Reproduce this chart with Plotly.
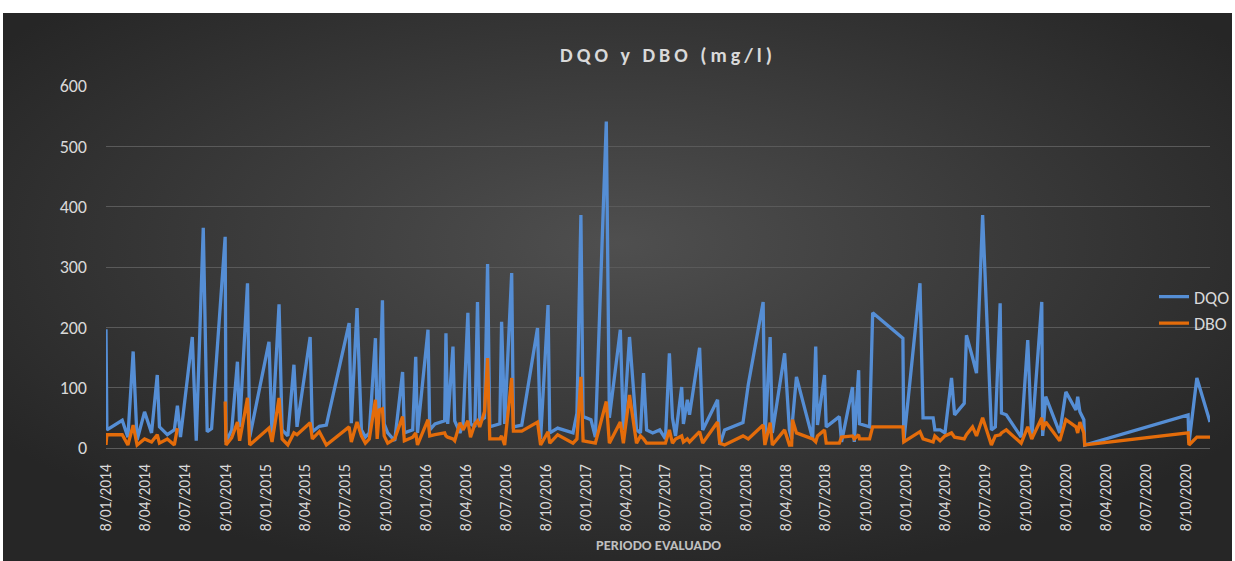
import base64
import plotly.graph_objects as go

fechas = [
    "2014-01-08", "2014-01-10", "2014-02-14", "2014-02-27", "2014-03-11", "2014-03-20",
    "2014-04-06", "2014-04-22", "2014-05-05", "2014-05-10", "2014-05-28", "2014-06-13",
    "2014-06-20", "2014-06-27", "2014-07-24", "2014-08-02", "2014-08-18", "2014-08-27",
    "2014-09-06", "2014-10-07", "2014-10-09", "2014-10-22", "2014-11-04", "2014-11-09",
    "2014-11-27", "2014-12-02", "2015-01-15", "2015-01-22", "2015-02-07", "2015-02-14",
    "2015-02-27", "2015-03-13", "2015-03-20", "2015-04-19", "2015-04-24", "2015-05-10",
    "2015-05-26", "2015-07-17", "2015-07-22", "2015-08-04", "2015-08-14", "2015-08-23",
    "2015-09-01", "2015-09-15", "2015-09-19", "2015-09-24", "2015-10-01", "2015-10-05",
    "2015-10-13", "2015-10-29", "2015-11-16", "2015-11-20", "2015-12-09", "2015-12-16",
    "2015-12-20", "2016-01-13", "2016-01-17", "2016-01-29", "2016-02-20", "2016-02-23",
    "2016-02-27", "2016-03-10", "2016-03-14", "2016-03-26", "2016-04-02", "2016-04-13",
    "2016-04-19", "2016-04-29", "2016-05-05", "2016-05-10", "2016-05-21", "2016-05-28",
    "2016-06-02", "2016-06-25", "2016-06-29", "2016-07-06", "2016-07-22", "2016-07-26",
    "2016-08-14", "2016-09-19", "2016-09-26", "2016-10-13", "2016-10-17", "2016-11-04",
    "2016-12-09", "2016-12-18", "2016-12-27", "2017-01-01", "2017-01-19", "2017-01-29",
    "2017-02-23", "2017-03-02", "2017-03-27", "2017-04-03", "2017-04-17", "2017-05-03",
    "2017-05-12", "2017-05-19", "2017-05-26", "2017-06-09", "2017-06-25", "2017-07-08",
    "2017-07-17", "2017-07-24", "2017-07-31", "2017-08-14", "2017-08-18", "2017-08-27",
    "2017-09-01", "2017-09-24", "2017-10-01", "2017-11-04", "2017-11-09", "2017-11-20",
    "2018-01-01", "2018-01-13", "2018-02-16", "2018-02-20", "2018-03-04", "2018-03-09",
    "2018-04-06", "2018-04-17", "2018-04-22", "2018-04-24", "2018-05-03", "2018-06-09",
    "2018-06-16", "2018-06-20", "2018-07-06", "2018-07-10", "2018-08-09", "2018-08-14",
    "2018-09-08", "2018-09-12", "2018-09-22", "2018-09-24", "2018-10-17", "2018-10-24",
    "2019-01-01", "2019-01-03", "2019-02-09", "2019-02-16", "2019-03-11", "2019-03-15",
    "2019-03-27", "2019-04-07", "2019-04-22", "2019-04-29", "2019-05-21", "2019-05-26",
    "2019-06-09", "2019-06-18", "2019-07-02", "2019-07-22", "2019-07-31", "2019-08-11",
    "2019-08-14", "2019-08-25", "2019-09-28", "2019-10-13", "2019-10-22", "2019-11-14",
    "2019-11-16", "2019-11-23", "2019-12-25", "2020-01-08", "2020-01-31", "2020-02-04",
    "2020-02-09", "2020-02-18", "2020-02-20", "2020-10-13", "2020-10-15", "2020-11-02",
    "2020-12-02",
]

dqo = [
    197, 30, 46, 18, 160, 13,
    60, 25, 121, 35, 22, 30,
    70, 18, 184, 12, 365, 27,
    32, 350, 10, 30, 143, 35,
    273, 18, 176, 22, 238, 30,
    20, 138, 35, 184, 27, 36,
    38, 207, 41, 232, 30, 18,
    25, 182, 40, 70, 245, 40,
    25, 12, 126, 25, 30, 151,
    25, 196, 30, 40, 45, 190,
    40, 168, 45, 25, 40, 224,
    40, 35, 242, 45, 50, 305,
    35, 40, 209, 40, 290, 35,
    38, 199, 15, 237, 25, 33,
    25, 58, 386, 52, 47, 18,
    541, 50, 196, 30, 184, 30,
    25, 124, 30, 25, 30, 15,
    157, 50, 20, 101, 40, 80,
    55, 166, 30, 80, 5, 30,
    42, 105, 242, 15, 184, 25,
    157, 30, 15, 45, 118, 15,
    168, 38, 121, 35, 52, 10,
    101, 10, 129, 40, 35, 224,
    182, 10, 273, 50, 50, 30,
    30, 25, 116, 55, 74, 187,
    150, 124, 386, 30, 35, 240,
    58, 55, 18, 179, 15, 242,
    20, 85, 25, 93, 63, 85,
    60, 47, 5, 55, 8, 116,
    43,
]

dbo = [
    5, 22, 22, 5, 38, 5,
    15, 10, 22, 8, 15, 5,
    33, None, None, None, None, None,
    None, 77, 5, 17, 43, 12,
    83, 5, 33, 10, 83, 15,
    5, 25, 22, 42, 15, 27,
    5, 35, 10, 43, 20, 8,
    15, 80, 15, 63, 65, 20,
    8, 15, 52, 12, 18, 25,
    5, 47, 20, 22, 25, 20,
    18, 15, 12, 42, 30, 45,
    18, 40, 45, 35, 60, 149,
    15, 15, 20, 5, 116, 28,
    28, 43, 5, 27, 8, 22,
    8, 15, 118, 12, 10, 8,
    77, 8, 43, 8, 88, 8,
    20, 15, 8, 8, 8, 8,
    30, 8, 15, 20, 10, 15,
    10, 27, 8, 43, 8, 5,
    20, 15, 38, 5, 42, 5,
    30, 5, 5, 47, 25, 15,
    10, 20, 30, 8, 8, 18,
    20, 15, 22, 15, 15, 35,
    35, 10, 27, 15, 10, 20,
    12, 20, 25, 18, 15, 22,
    35, 20, 50, 5, 20, 22,
    25, 30, 8, 35, 15, 50,
    30, 43, 12, 47, 35, 25,
    43, 25, 5, 25, 5, 18,
    18,
]

tick_fechas = [f"{y}-{m:02d}-08" for y in range(2014, 2021) for m in (1, 4, 7, 10)]
tick_textos = [f"8/{m:02d}/{y}" for y in range(2014, 2021) for m in (1, 4, 7, 10)]

titulo = "DQO y DBO (mg/l)"
titulo_espaciado = "\u2009".join(titulo)

FONT = "Calibri, Carlito, 'Open Sans', sans-serif"
TXT = "#d9d9d9"

svg = (
    '<svg xmlns="http://www.w3.org/2000/svg" width="1229" height="548" viewBox="0 0 1229 548" '
    'preserveAspectRatio="none">'
    '<defs><radialGradient id="g" cx="0.5" cy="0.42" r="0.62">'
    '<stop offset="0" stop-color="#4f4f4f"/><stop offset="1" stop-color="#262626"/>'
    '</radialGradient></defs><rect width="1229" height="548" fill="url(#g)"/></svg>'
)
bg_src = "data:image/svg+xml;base64," + base64.b64encode(svg.encode()).decode()

fig = go.Figure()
fig.add_trace(go.Scatter(
    x=fechas, y=dqo, name="DQO", mode="lines",
    line=dict(color="#558ed5", width=3.3),
))
fig.add_trace(go.Scatter(
    x=fechas, y=dbo, name="DBO", mode="lines", connectgaps=False,
    line=dict(color="#e46c0a", width=3.3),
))

L, R, T, B = 106, 25, 86, 113
W, H = 1235, 561
pw, ph = W - L - R, H - T - B

fig.update_layout(
    width=W, height=H,
    margin=dict(l=L, r=R, t=T, b=B, pad=0, autoexpand=False),
    paper_bgcolor="white",
    plot_bgcolor="rgba(0,0,0,0)",
    images=[dict(
        source=bg_src, xref="paper", yref="paper",
        x=(3 - L) / pw, y=(H - B - 13) / ph,
        sizex=1229 / pw, sizey=548 / ph,
        sizing="stretch", layer="below", xanchor="left", yanchor="top",
    )],
    title=dict(
        text="<b>" + titulo_espaciado + "</b>",
        font=dict(family=FONT, size=20, color=TXT),
        x=666 / W, xanchor="center", y=1 - 55 / H, yanchor="middle",
    ),
    xaxis=dict(
        type="date",
        range=[fechas[0], fechas[-1]],
        tickvals=tick_fechas, ticktext=tick_textos,
        tickangle=-90,
        tickfont=dict(family=FONT, size=15.5, color=TXT),
        showgrid=False, zeroline=False,
        showline=True, linecolor="#5c5c5c", linewidth=1,
        ticks="", ticklabelstandoff=9,
    ),
    yaxis=dict(
        range=[0, 600], tickvals=[0, 100, 200, 300, 400, 500, 600],
        tickfont=dict(family=FONT, size=18, color=TXT),
        showgrid=True, gridcolor="#5a5a5a", gridwidth=1,
        zeroline=False, showline=False, ticks="", ticklabelstandoff=18,
    ),
    legend=dict(
        x=1.0, xref="container", y=1 - 310 / H, yref="container",
        xanchor="right", yanchor="middle",
        bgcolor="rgba(0,0,0,0)",
        font=dict(family=FONT, size=18, color=TXT),
        itemwidth=30, tracegroupgap=0,
    ),
    annotations=[dict(
        text="<b>PERIODO EVALUADO</b>", xref="paper", yref="paper",
        x=(658 - L) / pw, y=(H - B - 545) / ph, showarrow=False,
        font=dict(family=FONT, size=14.5, color="#bfbfbf"),
        xanchor="center", yanchor="middle",
    )],
)

fig.write_html(
    "out.html",
    config={"displayModeBar": False},
    post_script="document.body.style.margin='0';",
)
